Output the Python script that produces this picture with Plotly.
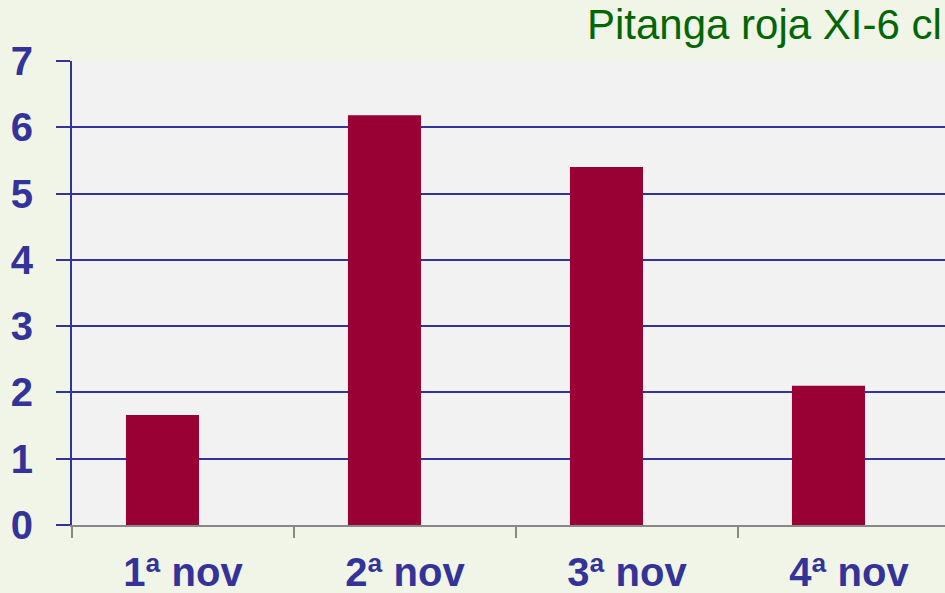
import plotly.graph_objects as go

categories = ["1ª nov", "2ª nov", "3ª nov", "4ª nov"]
values = [1.66, 6.18, 5.40, 2.10]
title_text = "Pitanga roja XI-6 cl"
y_ticks = [0, 1, 2, 3, 4, 5, 6, 7]

NAVY = "#333399"
FONT = "Liberation Sans, Arial, sans-serif"
fig = go.Figure()
fig.add_trace(go.Bar(
    x=categories, y=values,
    marker=dict(color="#990033", line=dict(width=0)),
    width=0.329, offset=-0.257,
))

fig.update_layout(
    width=945, height=593,
    margin=dict(l=72, r=0, t=61, b=68, autoexpand=False),
    paper_bgcolor="#F1F5E7",
    plot_bgcolor="#F2F2F2",
    showlegend=False,
    font=dict(family=FONT),
    xaxis=dict(
        type="category",
        range=[-0.5, 3.4324],
        tickson="boundaries",
        ticks="outside", ticklen=11, tickwidth=2, tickcolor="#888888",
        showline=True, linecolor="#888888", linewidth=2,
        showgrid=False, automargin=False,
        tickfont=dict(size=40, color=NAVY, family=FONT, weight="bold"),
        ticklabelstandoff=11,
    ),
    yaxis=dict(
        range=[0, 7],
        tickvals=y_ticks,
        ticks="outside", ticklen=14, tickwidth=2, tickcolor=NAVY,
        showline=True, linecolor=NAVY, linewidth=2,
        showgrid=True, gridcolor=NAVY, gridwidth=2,
        zeroline=False, automargin=False,
        tickfont=dict(size=40, color=NAVY, family=FONT, weight="bold"),
        ticklabelstandoff=15,
    ),
    annotations=[dict(
        text=title_text, xref="paper", yref="paper",
        x=(585 - 72) / 873, y=1 + (61 - 24) / 464,
        xanchor="left", yanchor="middle", showarrow=False,
        font=dict(size=42, color="#006600", family=FONT),
    )],
)

fig.write_html(
    "out.html",
    config={"displayModeBar": False},
    post_script="document.body.style.margin='0';document.body.style.background='#F1F5E7';document.body.style.overflow='hidden';",
)
